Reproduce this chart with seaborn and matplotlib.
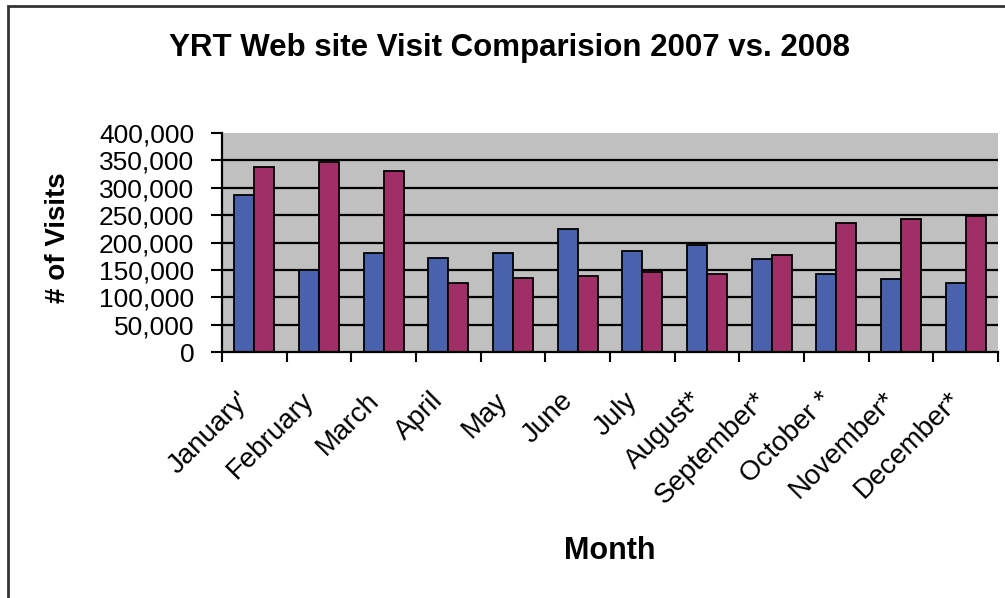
import matplotlib
matplotlib.use("Agg")
import matplotlib.pyplot as plt
import matplotlib.transforms as mtransforms
import seaborn as sns
import pandas as pd
import numpy as np
from matplotlib.patches import Rectangle
from matplotlib.ticker import FuncFormatter

months = ["January'", "February", "March", "April", "May", "June", "July",
          "August*", "September*", "October *", "November*", "December*"]
visits_2007 = [287000, 149000, 181000, 171000, 181000, 225000, 185000,
               196000, 170000, 142000, 134000, 126000]
visits_2008 = [337000, 347000, 330000, 126000, 135000, 139000, 147000,
               142000, 177000, 236000, 243000, 248000]
years = ["2007", "2008"]
yticks = [0, 50000, 100000, 150000, 200000, 250000, 300000, 350000, 400000]

df = pd.DataFrame({
    "Month": months * 2,
    "Visits": visits_2007 + visits_2008,
    "Year": [years[0]] * len(months) + [years[1]] * len(months),
})

sns.set_theme(style="white")
plt.rcParams["font.family"] = ["Liberation Sans", "DejaVu Sans"]
plt.rcParams["text.color"] = "black"
plt.rcParams["axes.labelcolor"] = "black"
plt.rcParams["xtick.color"] = "black"
plt.rcParams["ytick.color"] = "black"

fig = plt.figure(figsize=(10.05, 5.98), dpi=100)
ax = fig.add_axes([222/1005, 1-352/598, (998-222)/1005, (352-133)/598])
ax.set_facecolor("#c0c0c0")

for y in yticks[1:-1]:
    ax.axhline(y, color="black", lw=1.6, zorder=0.5)

sns.barplot(data=df, x="Month", y="Visits", hue="Year",
            palette=["#4a62ad", "#9f2f66"], width=0.62,
            edgecolor="black", linewidth=1.3, ax=ax, legend=False,
            zorder=2, saturation=1)

ax.set_ylim(0, 400000)
ax.set_xlim(-0.5, len(months) - 0.5)
ax.set_yticks(yticks)
ax.yaxis.set_major_formatter(FuncFormatter(lambda v, p: f"{int(v):,}"))
ax.tick_params(axis="y", labelsize=19, length=8, width=1.5, direction="out",
               left=True, pad=12, colors="black")

ax.set_xticks(np.arange(-0.5, len(months)), labels=[""] * (len(months) + 1))
ax.set_xticks(np.arange(len(months)), labels=months, minor=True)
ax.tick_params(axis="x", which="major", length=7, width=1.5, direction="out",
               bottom=True)
ax.tick_params(axis="x", which="minor", length=0, labelsize=20, pad=32)
shift = mtransforms.ScaledTranslation(-0.09, 0.0, fig.dpi_scale_trans)
for lab in ax.get_xticklabels(minor=True):
    lab.set_rotation(45)
    lab.set_ha("right")
    lab.set_va("center")
    lab.set_rotation_mode("anchor")
    lab.set_transform(lab.get_transform() + shift)

for s in ["top", "right"]:
    ax.spines[s].set_visible(False)
for s in ["left", "bottom"]:
    ax.spines[s].set_color("black")
    ax.spines[s].set_linewidth(1.6)

ax.set_xlabel("Month", fontsize=22, fontweight="bold")
ax.xaxis.set_label_coords(0.5, (352-551)/219)
ax.xaxis.label.set_va("center")
ax.set_ylabel("# of Visits", fontsize=20, fontweight="bold")
ax.yaxis.set_label_coords((58-222)/776, (352-238)/219)
ax.yaxis.label.set_va("center")

fig.text(0.507, 1-56/598, "YRT Web site Visit Comparision 2007 vs. 2008",
         ha="center", va="baseline", fontsize=22.5, fontweight="bold")

fig.patches.append(Rectangle((8/1005, -0.1), 1.2, 1.1 - 6/598,
                             transform=fig.transFigure, fill=False,
                             edgecolor="#333333", lw=2))

fig.savefig("out.png", dpi=100)
